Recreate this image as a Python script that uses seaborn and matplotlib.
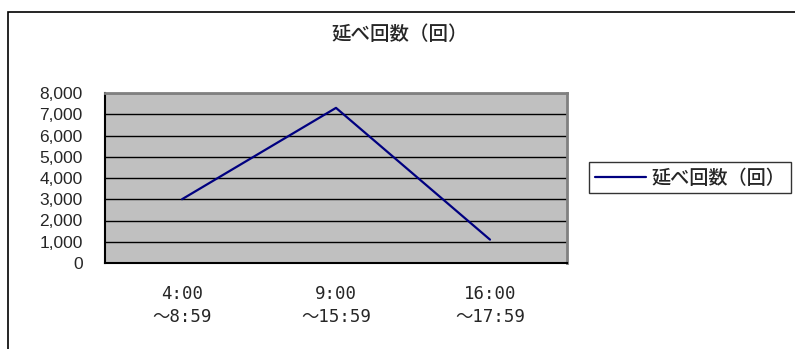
import matplotlib
matplotlib.use("Agg")
import matplotlib.pyplot as plt
from matplotlib.patches import Rectangle
from matplotlib.ticker import FuncFormatter, FixedLocator
import seaborn as sns
import pandas as pd

# time slots and total counts
time_slots = ["4:00\n～8:59", "9:00\n～15:59", "16:00\n～17:59"]
counts = [3000, 7300, 1100]
series_name = "延べ回数（回）"
y_ticks = [0, 1000, 2000, 3000, 4000, 5000, 6000, 7000, 8000]

sns.set_style("white")
plt.rcParams["font.family"] = ["Liberation Sans", "Noto Sans CJK JP"]

df = pd.DataFrame({"slot": time_slots, "count": counts})

W, H = 795, 349
fig = plt.figure(figsize=(W / 100, H / 100), dpi=100)
fig.patch.set_facecolor("white")

# outer chart frame (extends past the right and bottom edges)
fig.patches.append(Rectangle((8 / W, -0.1), 1.2, 1 - 12 / H + 0.1,
                             transform=fig.transFigure, fill=False,
                             edgecolor="black", linewidth=1.2))

ax = fig.add_axes([105 / W, 1 - 263 / H, 462 / W, 170 / H])
ax.set_facecolor("#C0C0C0")

sns.lineplot(data=df, x="slot", y="count", ax=ax, color="#000080",
             linewidth=1.6, label=series_name, sort=False)

ax.set_xlim(-0.5, 2.5)
ax.set_ylim(0, 8000)
ax.yaxis.set_major_locator(FixedLocator(y_ticks))
ax.yaxis.set_major_formatter(FuncFormatter(lambda v, p: f"{int(v):,}"))
ax.grid(axis="y", color="black", linewidth=1.0)
ax.grid(axis="x", visible=False)
ax.set_axisbelow(True)
ax.set_xlabel("")
ax.set_ylabel("")

for lbl in ax.get_yticklabels():
    lbl.set_fontsize(12.5)
ax.tick_params(axis="y", length=0, pad=16)

ax.set_xticks(range(len(time_slots)))
ax.set_xticklabels(time_slots, fontsize=12.5, linespacing=1.35,
                   family=["DejaVu Sans Mono", "Noto Sans CJK JP"])
ax.tick_params(axis="x", length=0, pad=16)
ax.set_xticks([0.5, 1.5], minor=True)
ax.tick_params(axis="x", which="minor", direction="in", length=5,
               color="black", width=1)

for side in ["top", "right"]:
    ax.spines[side].set_color("#808080")
    ax.spines[side].set_linewidth(2.0)
for side in ["left", "bottom"]:
    ax.spines[side].set_color("black")
    ax.spines[side].set_linewidth(1.5)

ax.legend_.remove()
handles, labels = ax.get_legend_handles_labels()
leg = fig.legend(handles, labels, loc="center left",
                 bbox_to_anchor=(589 / W, 1 - 177.5 / H),
                 frameon=True, fancybox=False, shadow=False,
                 edgecolor="black", handlelength=2.65, handletextpad=0.3,
                 borderpad=0.3, borderaxespad=0,
                 prop={"family": ["Noto Sans CJK JP"], "size": 13.8,
                       "weight": "medium"})
leg.get_frame().set_linewidth(1.0)

fig.text(400 / W, 1 - 34 / H, series_name, ha="center", va="center",
         fontsize=14, weight="medium", family=["Noto Sans CJK JP"])

fig.savefig("out.png", dpi=100)
